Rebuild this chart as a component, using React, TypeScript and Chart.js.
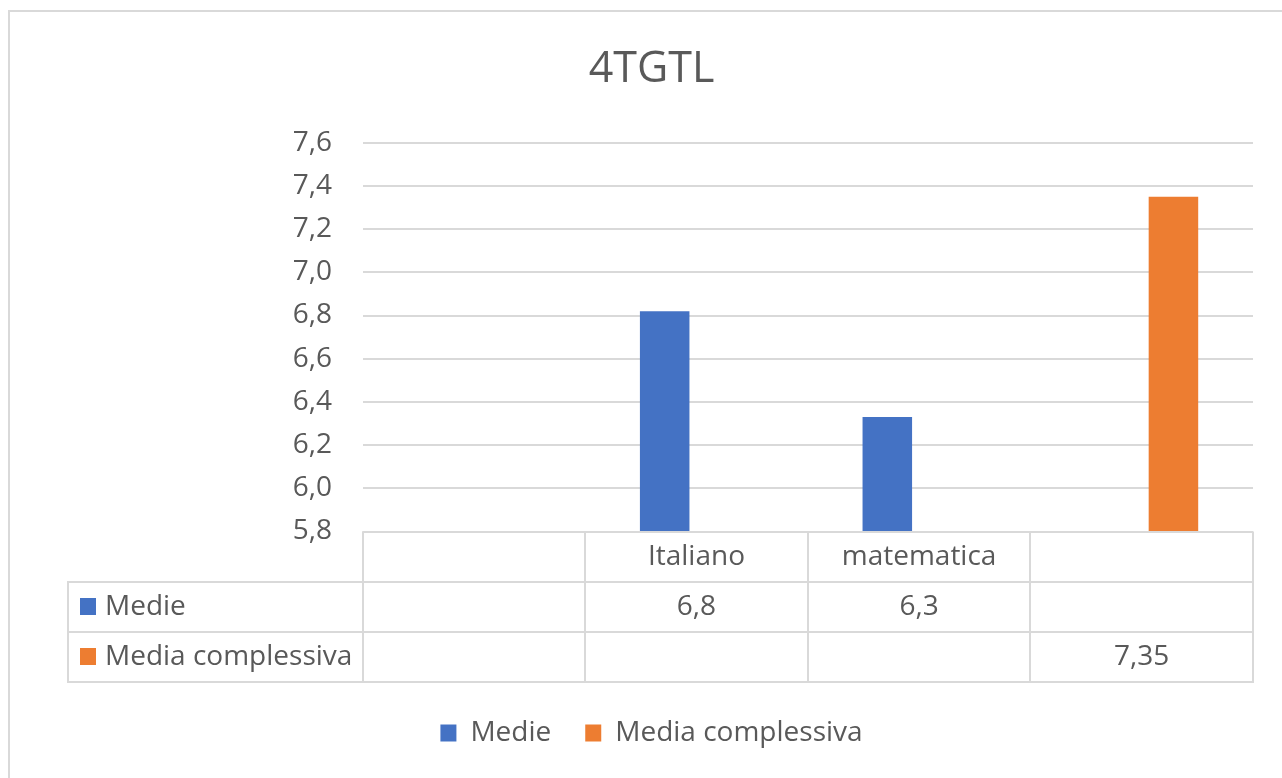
import React, { useEffect, useRef } from "react";
import { Chart, registerables } from "chart.js";

Chart.register(...registerables);

// ---- data ----
const chartTitle = "4TGTL";
const categories = ["", "Italiano", "matematica", ""];
const medie: (number | null)[] = [null, 6.82, 6.33, null];
const mediaComplessiva: (number | null)[] = [null, null, null, 7.35];
const seriesNames = ["Medie", "Media complessiva"];
const seriesColors = ["#4472C4", "#ED7D31"];
const seriesDecimals = [1, 2];
const yMin = 5.8;
const yMax = 7.6;
const yStep = 0.2;

// ---- style ----
const FONT = "'Open Sans', 'Noto Sans', sans-serif";
const TEXT = "#595959";
const GRID = "#D9D9D9";
const ROW_H = 50;
const TABLE_LEFT = 58;
const TABLE_FONT = 28;

const fmt = (v: number, d: number) => v.toFixed(d).replace(".", ",");

const dataTablePlugin = {
  id: "dataTable",
  afterDraw(chart: any) {
    const { ctx, chartArea, scales } = chart;
    const xs = scales.x;
    const n = categories.length;
    const catW = (chartArea.right - chartArea.left) / n;
    const top = chartArea.bottom;
    const rows = chart.data.datasets.length;
    const bottom = top + ROW_H * (rows + 1);
    ctx.save();
    ctx.strokeStyle = GRID;
    ctx.lineWidth = 2;
    ctx.beginPath();
    ctx.moveTo(chartArea.left, Math.round(top));
    ctx.lineTo(chartArea.right, Math.round(top));
    for (let k = 1; k <= rows + 1; k++) {
      const y = Math.round(top + ROW_H * k);
      ctx.moveTo(TABLE_LEFT - 1, y);
      ctx.lineTo(chartArea.right + 1, y);
    }
    for (let i = 0; i <= n; i++) {
      const x = Math.round(
        i < n ? xs.getPixelForValue(i) - catW / 2 : xs.getPixelForValue(n - 1) + catW / 2
      );
      ctx.moveTo(x, top);
      ctx.lineTo(x, bottom);
    }
    ctx.moveTo(TABLE_LEFT, Math.round(top + ROW_H));
    ctx.lineTo(TABLE_LEFT, Math.round(bottom));
    ctx.stroke();

    ctx.font = `${TABLE_FONT}px ${FONT}`;
    ctx.textBaseline = "middle";
    chart.data.datasets.forEach((ds: any, d: number) => {
      const cy = top + ROW_H * (d + 1) + ROW_H / 2 + 1;
      ctx.fillStyle = seriesColors[d];
      ctx.fillRect(TABLE_LEFT + 12, cy - 9.5, 16, 17);
      ctx.fillStyle = TEXT;
      ctx.textAlign = "left";
      ctx.fillText(ds.label, TABLE_LEFT + 37, cy);
      ctx.textAlign = "center";
      ds.data.forEach((v: number | null, i: number) => {
        if (v === null || v === undefined) return;
        ctx.fillText(fmt(v, seriesDecimals[d]), xs.getPixelForValue(i), cy);
      });
    });
    ctx.restore();
  },
};

function ChartView() {
  const ref = useRef<HTMLCanvasElement | null>(null);
  useEffect(() => {
    if (!ref.current) return;
    const chart = new Chart(ref.current, {
      type: "bar",
      data: {
        labels: categories,
        datasets: [
          { label: seriesNames[0], data: medie, backgroundColor: seriesColors[0], borderWidth: 0 },
          { label: seriesNames[1], data: mediaComplessiva, backgroundColor: seriesColors[1], borderWidth: 0 },
        ],
      },
      options: {
        animation: false,
        responsive: false,
        devicePixelRatio: 1,
        datasets: { bar: { categoryPercentage: 0.5705, barPercentage: 0.78 } },
        layout: { padding: { left: 40, right: 29, top: 0, bottom: 21 } },
        plugins: {
          title: {
            display: true,
            text: chartTitle,
            color: TEXT,
            font: { family: FONT, size: 43, weight: "normal" },
            padding: { top: 31.8, bottom: 47.3 },
          },
          legend: {
            position: "bottom",
            labels: {
              color: TEXT,
              font: { family: FONT, size: 28 },
              boxWidth: 16,
              boxHeight: 17,
              padding: 34,
            },
          },
          tooltip: { enabled: false },
        },
        scales: {
          x: {
            grid: { display: false, drawTicks: false },
            border: { display: false },
            ticks: {
              color: TEXT,
              font: { family: FONT, size: TABLE_FONT },
              padding: 8.5,
              maxRotation: 0,
              autoSkip: false,
            },
            afterFit: (s: any) => {
              s.height = 153.5;
            },
          },
          y: {
            min: yMin,
            max: yMax,
            ticks: {
              stepSize: yStep,
              color: TEXT,
              font: { family: FONT, size: 28 },
              padding: 30.5,
              callback: (v: any) => fmt(Number(v), 1),
            },
            grid: { color: GRID, lineWidth: 2, drawTicks: false },
            border: { display: false },
            afterFit: (s: any) => {
              s.width = 312.5;
            },
          },
        },
      } as any,
      plugins: [dataTablePlugin],
    });
    return () => chart.destroy();
  }, []);
  return <canvas ref={ref} width={1272} height={766} style={{ display: "block" }} />;
}

export default function App() {
  return (
    <div
      style={{
        position: "fixed",
        left: 8,
        top: 10,
        width: 1274,
        height: 768,
        borderTop: "2px solid #D9D9D9",
        borderLeft: "2px solid #D9D9D9",
        boxSizing: "border-box",
        background: "#fff",
      }}
    >
      <ChartView />
    </div>
  );
}
